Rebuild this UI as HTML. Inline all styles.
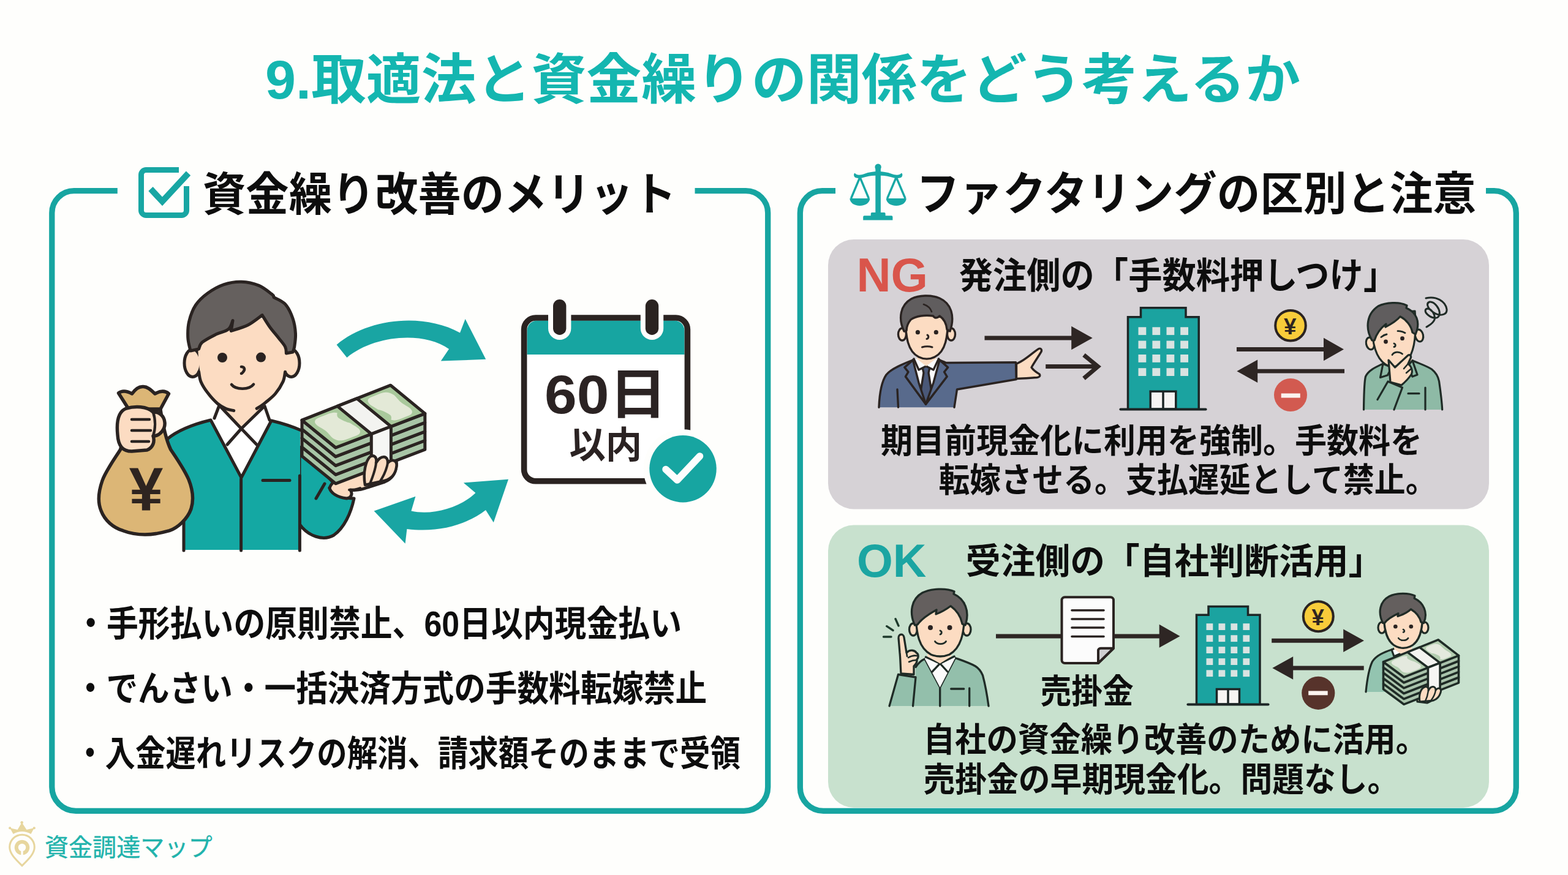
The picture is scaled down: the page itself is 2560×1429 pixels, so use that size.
<!DOCTYPE html>
<html lang="ja"><head><meta charset="utf-8"><title>9.取適法と資金繰りの関係をどう考えるか</title>
<style>
html,body{margin:0;padding:0;background:#fefefc;}
body{width:2560px;height:1429px;position:relative;overflow:hidden;font-family:"Liberation Sans","Noto Sans CJK JP",sans-serif;}
svg{position:absolute;left:0;top:0;display:block}
.t{position:absolute;white-space:nowrap;color:transparent;line-height:1;font-weight:bold;pointer-events:none;margin:0}
</style></head><body>
<svg width="2560" height="1429" viewBox="0 0 2560 1429">
<rect width="2560" height="1429" fill="#fefefc"/>
<g fill="none" stroke="#17a5a1" stroke-width="9.3" stroke-linecap="butt">
<path d="M191.8 311.7H120.8A36 36 0 0 0 84.8 347.7V1285.3A39 39 0 0 0 123.8 1324.3H1214.7A39 39 0 0 0 1253.7 1285.3V347.7A36 36 0 0 0 1217.7 311.7H1134.5"/>
<path d="M1364.0 311.7H1342.3A36 36 0 0 0 1306.3 347.7V1286.3A38 38 0 0 0 1344.3 1324.3H2437.3A38 38 0 0 0 2475.3 1286.3V347.7A36 36 0 0 0 2439.3 311.7H2426.0"/>
</g>
<rect x="1352" y="391" width="1079" height="440.5" rx="42" fill="#d6d2d6"/>
<rect x="1352" y="857.5" width="1079" height="461.5" rx="42" fill="#c8e1ce"/>

<g fill="none" stroke="#18a6a3"><path d="M292 277.5H238.5A8 8 0 0 0 230.5 285.5V343.5A8 8 0 0 0 238.5 351.5H296.5A8 8 0 0 0 304.5 343.5V304" stroke-width="9"/><path d="M246 308.5L265 329L307.5 283" stroke-width="10"/></g>
<g fill="#19a5a3">
<path d="M549.6 563C600 520 690 510 751 543.4L759.6 521L793.2 586.8L719.8 589.6L733 570C690 540 610 548 566.4 584Z"/>
<path d="M610.6 834.5L678.4 810.8L671.4 834.5C705 842 750 830 776.4 805L756.8 788.4L830 782.8L805.8 853.3L793 833C760 858 715 870 664.4 864L661.6 887.7Z"/>
</g>
<g>
<rect x="855.6" y="519" width="266.8" height="266.8" rx="19" fill="#ffffff"/>
<path d="M860.5 579V540A16.5 16.5 0 0 1 877 523.5H1101A16.5 16.5 0 0 1 1117.5 540V579Z" fill="#17a5a1"/>
<rect x="855.6" y="519" width="266.8" height="266.8" rx="19" fill="none" stroke="#2a2321" stroke-width="9.6"/>
<rect x="903.0" y="489" width="21.4" height="58" rx="10.7" fill="#fefefc" stroke="#fefefc" stroke-width="16"/>
<rect x="903.0" y="489" width="21.4" height="58" rx="10.7" fill="#2a2321"/>
<rect x="1053.8" y="489" width="21.4" height="58" rx="10.7" fill="#fefefc" stroke="#fefefc" stroke-width="16"/>
<rect x="1053.8" y="489" width="21.4" height="58" rx="10.7" fill="#2a2321"/>
<circle cx="1115" cy="765.7" r="64.5" fill="#fefefc"/>
<circle cx="1115" cy="765.7" r="54.7" fill="#17a5a1"/>
<path d="M1087 766.5L1105.7 784L1142.5 745" fill="none" stroke="#fdfdfd" stroke-width="11.5" stroke-linecap="round" stroke-linejoin="round"/>
</g>
<g stroke="#2a2321" stroke-width="5" stroke-linejoin="round" stroke-linecap="round">
<path d="M489 730L548 792L538 797C548 808 562 814 578 814C573 838 562 862 545 874C528 884 503 876 489 856Z" fill="#14a8a3"/>
<path d="M300 898V790L273 717C290 703 315 693 344 686L394 780L443 687C460 691 476 696 490 702V898Z" fill="#14a8a3" stroke="none"/>
<path d="M344 686L350 683L358 660H432L440 686L443 687L394 780Z" fill="#ffffff" stroke="none"/>
<path d="M358 640H432V663L394 700L358 662Z" fill="#fcdcc2" stroke="none"/>
<path d="M273 717C290 703 315 693 344 686L394 780L443 687C460 691 476 696 492 703M300 852V899M393.6 782V899M489.4 777V899M429 784.4H473M530 790L516 814" fill="none"/>
<path d="M350 683L358 662L394 700L432 663L440 686M394 700L371 726M394 700L419 726" fill="none"/>
<ellipse cx="314.5" cy="593" rx="13.5" ry="22.5" fill="#fcdcc2"/><ellipse cx="475.5" cy="593" rx="13.5" ry="22.5" fill="#fcdcc2"/>
<path d="M324 520C320 600 330 634 342 650C350 658 356 661 360 662C368 667 375 671 382 671L418 667C422 667 427 665 433 661C450 651 462 634 466 612C470 590 470 560 468 520Z" fill="#fcdcc2" stroke="none"/>
<path d="M324.6 607.4C325.2 610.1 325.6 617.8 328.0 623.4C330.4 629.0 334.4 635.4 338.9 641.3C343.4 647.2 350.1 654.7 355.0 659.0C359.9 663.3 363.6 665.0 368.0 667.0C372.4 669.0 379.4 670.1 381.7 670.7M465.6 607.4C465.0 610.1 464.7 617.5 462.0 623.4C459.3 629.3 454.2 637.4 449.5 643.0C444.8 648.6 437.4 654.0 433.5 657.3C429.6 660.6 428.4 661.4 426.0 663.0C423.6 664.6 420.3 666.5 419.2 667.2" fill="none"/>
<path d="M311.0 573.0C310.3 569.5 307.2 560.0 306.8 552.0C306.4 544.0 306.5 534.2 308.6 525.3C310.7 516.4 314.2 506.2 319.3 498.5C324.4 490.8 331.2 484.6 338.9 479.0C346.6 473.4 356.5 467.7 365.7 464.6C374.9 461.5 384.7 459.9 394.2 460.2C403.7 460.5 414.5 463.0 422.8 466.4C431.1 469.8 440.6 478.3 444.2 480.7L446.5 483L447 485.5C450.1 487.4 460.4 490.9 465.6 496.7C470.8 502.4 475.2 511.9 478.0 520.0C480.8 528.0 482.1 537.3 482.5 545.0C482.9 552.7 481.4 561.3 480.7 566.3C479.9 571.3 478.4 573.5 478.0 575.0L467.4 577C467.1 575.2 467.7 570.5 465.6 566.3C463.5 562.1 459.1 557.4 454.9 552.0C450.7 546.6 445.1 540.4 440.6 534.2C436.1 528.0 430.2 517.9 428.1 514.6C424.2 517.3 413.5 526.4 405.0 530.7C396.5 535.0 381.9 538.9 377.3 540.5L380 523.5C378.8 525.9 377.6 533.9 372.8 537.8C368.0 541.7 358.5 543.1 351.4 546.7C344.3 550.3 334.5 555.3 330.0 559.2C325.5 563.1 325.5 568.2 324.6 570.0Z" fill="#65605e"/>
<circle cx="363" cy="584" r="8" fill="#2a2321" stroke="none"/><circle cx="426" cy="583.6" r="8" fill="#2a2321" stroke="none"/>
<path d="M394 599C399 599 400 603 398 606C396 609 395 610 394 610M378 628C385 637 407 637 414 627.6" fill="none" stroke-width="4.6"/>
</g>
<g stroke="#2a2321" stroke-width="5" stroke-linejoin="round" stroke-linecap="round">
<path d="M538 797C542 784 560 776 592 768L594 752C598 742 608 742 612 750C616 738 630 738 633 748C640 742 649 748 647 760C646 774 640 782 628 787L600 796C590 800 580 801 572 800C576 806 574 813 566 814C550 812 540 805 538 797Z" fill="#fcdcc2"/>
<path d="M612 750C612 764 606 778 600 790M633 748C632 762 626 776 618 786M588 797C580 800 572 800 570 800" fill="none" stroke-width="4"/>
</g>
<g stroke="#2a2321" stroke-width="5" stroke-linejoin="round" stroke-linecap="round">
<polygon points="493.0,730.3 548.0,775.1 693.8,719.5 693.8,734.2 548.0,789.8 493.0,745.0" fill="#a8c5a6"/>
<polygon points="493.0,715.6 548.0,760.4 693.8,704.8 693.8,719.5 548.0,775.1 493.0,730.3" fill="#a8c5a6"/>
<polygon points="493.0,700.9 548.0,745.7 693.8,690.1 693.8,704.8 548.0,760.4 493.0,715.6" fill="#a8c5a6"/>
<polygon points="493.0,686.2 548.0,731.0 693.8,675.4 693.8,690.1 548.0,745.7 493.0,700.9" fill="#a8c5a6"/>
<polygon points="493.0,686.2 637.7,629.2 693.8,675.4 548.0,731.0" fill="#a9c99c"/>
<path d="M516.5 693.6C513.7 690.5 513.2 687.9 515.2 685.4C517.3 683.0 524.0 680.7 528.9 678.7C533.8 676.8 540.0 674.1 544.8 673.8C549.6 673.6 553.7 674.8 557.9 677.4C562.1 680.0 565.2 685.7 569.8 689.5C574.4 693.3 582.7 696.9 585.6 700.1C588.4 703.2 588.9 705.8 586.8 708.2C584.8 710.7 578.0 712.9 573.1 714.8C568.1 716.7 562.0 719.4 557.1 719.6C552.3 719.8 548.2 718.6 544.0 716.0C539.9 713.4 536.8 707.8 532.2 704.1C527.6 700.3 519.3 696.7 516.5 693.6Z" fill="#e3e9d7" stroke="none"/>
<path d="M603.2 659.7C600.3 656.6 599.7 654.0 601.6 651.6C603.4 649.1 609.7 647.0 614.3 645.2C619.0 643.4 624.7 640.8 629.4 640.7C634.0 640.5 638.0 641.8 642.2 644.5C646.4 647.1 649.7 652.9 654.4 656.7C659.0 660.6 667.3 664.4 670.2 667.5C673.2 670.7 673.8 673.3 671.9 675.7C670.1 678.1 663.7 680.1 659.1 681.9C654.4 683.7 648.6 686.3 644.0 686.4C639.3 686.5 635.3 685.2 631.1 682.6C627.0 679.9 623.7 674.2 619.0 670.4C614.4 666.6 606.2 662.8 603.2 659.7Z" fill="#e3e9d7" stroke="none"/>
<path d="M551.9 681.8C549.1 678.9 550.7 674.2 551.4 672.6C552.1 671.0 552.0 669.4 556.1 672.1C560.2 674.7 574.0 685.4 576.1 688.4C578.1 691.4 572.5 691.1 568.4 690.0C564.4 688.9 554.7 684.7 551.9 681.8Z" fill="#a9c99c" stroke="none"/>
<path d="M637.4 678.1C640.2 681.1 638.6 685.7 637.9 687.3C637.2 689.0 637.3 690.5 633.1 687.8C629.0 685.2 615.1 674.4 613.1 671.4C611.0 668.4 616.7 668.6 620.7 669.8C624.8 670.9 634.5 675.2 637.4 678.1Z" fill="#a9c99c" stroke="none"/>
<polygon points="550.9,663.4 582.7,650.9 638.4,696.5 606.3,708.8" fill="#f3f3f0"/>
<polygon points="606.3,708.8 638.4,696.5 638.4,755.3 606.3,767.6" fill="#f6f6f4"/>
</g>
<g stroke="#2a2321" stroke-width="4.5" stroke-linejoin="round" stroke-linecap="round">
<path d="M596 792C592 770 598 752 604 746C610 742 616 746 614 756C622 742 634 744 633 756C640 748 650 752 647 764C645 776 638 782 628 785Z" fill="#fcdcc2"/>
<path d="M614 756C613 768 608 780 604 790M633 756C631 768 626 778 620 787" fill="none" stroke-width="4"/>
</g>
<g stroke="#2a2321" stroke-width="5.5" stroke-linejoin="round" stroke-linecap="round">
<path d="M210 668L193.5 642C200 637 208 639 215.6 643C222 634 228 631 233.5 631.5C240 631 246 636 253 643C262 638 270 638 275.5 643L262 668Z" fill="#dcb676"/>
<path d="M209 669C204 700 200 720 196.7 734C188 748 172 770 167 785C160 805 160 822 165 834C171 850 185 862 201 866.7C215 872 228 873 236.6 873C250 873 265 870 276.5 866.7C290 862 306 848 312 831C317 815 314 798 308 783C300 765 288 748 278.6 734C272 720 266 695 262 669Z" fill="#dcb676"/>
<path d="M206 667C193 672 190 690 192 710C193 728 200 737 215 737L240 735C250 731 253 721 250 712C262 712 270 700 269 690C268 678 258 672 250 673C240 663 220 663 206 667Z" fill="#fcdcc2"/>
<path d="M215 685H244M215 703H246M215 721H243M250 673C254 685 254 700 250 712" fill="none" stroke-width="4.5"/>
</g><g stroke="#2a2321" stroke-width="3.4" stroke-linejoin="round" stroke-linecap="round">
<path d="M1435 665.2C1436 640 1440 622 1447 612C1455 602 1475 594 1490.5 588L1512 598L1534 588C1538 590 1542 591 1544.5 592.5L1658.5 591.7L1659.2 619.5L1562.5 636L1558 665.2Z" fill="#586a8c" stroke="none"/>
<path d="M1435 665.2C1436 640 1440 622 1447 612C1455 602 1475 594 1490.5 588M1534 588C1538 590 1542 591 1544.5 592.5L1658.5 591.7L1659.2 619.5L1562.5 636L1558 665.2M1465 636L1466.5 665" fill="none"/>
<path d="M1490.5 588L1492 586L1512 598L1532.5 586L1534 588L1546 615L1511.5 660L1478.5 615Z" fill="#fbfbfb" stroke="none"/>
<path d="M1506 600L1512 597L1518 600L1516 609L1521 640L1511.5 660L1503 640L1508 609Z" fill="#4a5878"/>
<path d="M1490.5 588L1477 600L1483 607.5L1478.5 615L1511.5 660L1546 615L1541.5 607.5L1547.5 600L1534 588" fill="none"/>
<path d="M1490.5 588L1477 600L1483 607.5L1478.5 615L1511.5 660L1500 625Z" fill="#586a8c"/><path d="M1534 588L1547.5 600L1541.5 607.5L1546 615L1511.5 660L1524 625Z" fill="#586a8c"/>
<path d="M1492 586L1500 604L1512 598L1524 604L1532.5 586" fill="#fbfbfb"/>
<path d="M1497 570H1528V586L1512 598L1497 586Z" fill="#fcdcc2" stroke="none"/>
<ellipse cx="1473" cy="546" rx="6.5" ry="10" fill="#fcdcc2"/><ellipse cx="1553" cy="546" rx="6.5" ry="10" fill="#fcdcc2"/>
<path d="M1479 500C1476 555 1484 575 1500 583C1508 587 1518 587 1526 583C1542 575 1550 555 1547 500Z" fill="#fcdcc2"/>
<path d="M1476 541C1466 520 1470 498 1488 488C1500 482 1520 481 1534 487C1552 495 1560 515 1551 541L1546 538C1545 528 1540 520 1534 516C1530 520 1526 520 1523.5 516C1510 514 1495 516 1487 522C1482 528 1480 535 1480 540Z" fill="#605d5e"/>
<path d="M1508 497C1514 499 1519 503 1521 509" fill="none" stroke-width="2.6"/>
<circle cx="1498.4" cy="542.7" r="3.6" fill="#2a2321" stroke="none"/><circle cx="1528.3" cy="542.7" r="3.6" fill="#2a2321" stroke="none"/>
<path d="M1514 547C1517 549 1516 553 1513 553.5M1505.5 567C1511 565.5 1517 565.5 1522 567" fill="none" stroke-width="3"/>
<path d="M1659.5 594C1672 590 1688 574 1696 569.5C1700 568 1702 572 1699 576C1694 584 1688 593 1684 600C1688 606 1694 609 1697 611C1699 614 1697 616 1693 616.5C1684 617 1672 618 1659.5 618.5Z" fill="#fcdcc2"/>
</g>
<path d="M1607.5 548.6H1749.2V532.8L1783.7 552.0L1749.2 571.2V555.4H1607.5Z" fill="#2e2624"/>
<path d="M1707.2 598.5H1790M1769.5 579.7L1792.5 598.5L1769.5 618" fill="none" stroke="#2e2624" stroke-width="7" stroke-linejoin="miter" stroke-linecap="butt"/>
<g stroke="#1d2626" stroke-width="3.5" stroke-linejoin="miter">
<path d="M1841.5 668.0V517.7H1862.5V502.7H1936.0V517.7H1957.2V668.0" fill="#1ba3a0"/>
<rect x="1878.2" y="639.2" width="41.6" height="28.8" fill="#f7f5f3"/>
<path d="M1899.0 639.2V668.0" fill="none"/>
<path d="M1829.5 668.5H1968.5" stroke-width="4.2" stroke-linecap="round" fill="none"/>
</g>
<rect x="1858.5" y="534.3" width="12.8" height="12.8" fill="#d9e3e1"/>
<rect x="1881.4" y="534.3" width="12.8" height="12.8" fill="#d9e3e1"/>
<rect x="1904.5" y="534.3" width="12.8" height="12.8" fill="#d9e3e1"/>
<rect x="1927.2" y="534.3" width="12.8" height="12.8" fill="#d9e3e1"/>
<rect x="1858.5" y="556.5" width="12.8" height="12.8" fill="#d9e3e1"/>
<rect x="1881.4" y="556.5" width="12.8" height="12.8" fill="#d9e3e1"/>
<rect x="1904.5" y="556.5" width="12.8" height="12.8" fill="#d9e3e1"/>
<rect x="1927.2" y="556.5" width="12.8" height="12.8" fill="#d9e3e1"/>
<rect x="1858.5" y="579.0" width="12.8" height="12.8" fill="#d9e3e1"/>
<rect x="1881.4" y="579.0" width="12.8" height="12.8" fill="#d9e3e1"/>
<rect x="1904.5" y="579.0" width="12.8" height="12.8" fill="#d9e3e1"/>
<rect x="1927.2" y="579.0" width="12.8" height="12.8" fill="#d9e3e1"/>
<rect x="1858.5" y="601.2" width="12.8" height="12.8" fill="#d9e3e1"/>
<rect x="1881.4" y="601.2" width="12.8" height="12.8" fill="#d9e3e1"/>
<rect x="1904.5" y="601.2" width="12.8" height="12.8" fill="#d9e3e1"/>
<rect x="1927.2" y="601.2" width="12.8" height="12.8" fill="#d9e3e1"/>
<circle cx="2107.0" cy="531.7" r="24.8" fill="#f8cc3a" stroke="#2a2321" stroke-width="4"/>
<path d="M2019.0 567.1H2161.0V551.8L2194.0 570.5L2161.0 589.2V573.9H2019.0Z" fill="#2e2624"/>
<path d="M2195.0 602.8H2053.2V587.5L2019.4 606.2L2053.2 624.9V609.6H2195.0Z" fill="#2e2624"/>
<circle cx="2107.0" cy="645.0" r="27.0" fill="#d25a50"/><rect x="2091.7" y="642.5" width="31.1" height="7.1" fill="#fbf3ef"/>
<g stroke="#1f2b26" stroke-width="3.2" stroke-linejoin="round" stroke-linecap="round">
<path d="M2226.5 669C2227 640 2227 625 2229.5 615C2234 605 2245 600 2258 594L2280 606L2306 588.7C2318 594 2330 598 2337.5 603C2345 609 2348 615 2349.5 622.5C2352 640 2354 655 2354.7 669Z" fill="#8ebaa6" stroke="none"/>
<path d="M2226.5 669C2227 640 2227 625 2229.5 615C2234 605 2245 600 2258 594M2306 588.7C2318 594 2330 598 2337.5 603C2345 609 2348 615 2349.5 622.5C2352 640 2354 655 2354.7 669M2299 642.7H2317M2327 633V669" fill="none"/>
<path d="M2262 585L2300 575L2306 589L2280 608L2258 594Z" fill="#fcdcc2" stroke="none"/>
<path d="M2258 594L2253.5 616.5L2265.5 612.7L2272 600Z" fill="#8ebaa6"/><path d="M2306 588.7L2314 612L2306 615L2298 598Z" fill="#8ebaa6"/>
<path d="M2266 623L2289.5 633L2276 669H2249L2249 652.5Z" fill="#8ebaa6" stroke="none"/>
<path d="M2249 652.5L2266 623L2289.5 633L2276 669" fill="none"/>
<ellipse cx="2237" cy="561" rx="6.5" ry="10" transform="rotate(-12 2237 561)" fill="#fcdcc2"/><ellipse cx="2317" cy="548" rx="6.5" ry="10" transform="rotate(-12 2317 548)" fill="#fcdcc2"/>
<path d="M2240 512C2238 560 2246 585 2262 595C2270 600 2282 600 2292 594C2306 584 2314 560 2310 508Z" fill="#fcdcc2"/>
<path d="M2240 556C2228 535 2232 512 2250 500C2262 494 2285 492 2297 499L2296 503C2312 510 2320 525 2311 546L2306 543C2304 532 2296 522 2286 517C2280 524 2270 530 2262 534L2263 529C2254 536 2247 546 2244 556Z" fill="#605d5e"/>
<circle cx="2262.5" cy="558" r="3.4" fill="#2a2321" stroke="none"/><circle cx="2289.5" cy="552.7" r="3.4" fill="#2a2321" stroke="none"/>
<path d="M2255 550.5C2258 548 2261 546.5 2264 546M2282 540.7C2286 540.5 2290 541.5 2294 543.7M2276 561C2279 562 2279 566 2276 566.5M2273 579.5C2276 574.5 2284 573.5 2289.5 578" fill="none" stroke-width="2.8"/>
<path d="M2267 588L2277.5 600L2298 581C2301 578 2305 581 2303 585L2299 594C2306 600 2306 607 2304.5 611C2300 618 2294 624 2288 629L2270 624Z" fill="#fcdcc2"/>
<path d="M2299 594L2292 602M2303 603L2296 609" fill="none" stroke-width="2.6"/>
<path d="M2328 487C2345 483 2360 492 2362 505C2363 515 2350 517 2340 510C2330 503 2328 495 2334 493C2342 492 2352 505 2350 514C2348 522 2338 520 2331 514C2326 510 2326 505 2330 504C2338 504 2344 515 2342 522C2340 528 2334 531 2329 534" fill="none" stroke-width="3"/>
</g><g stroke="#1f2b26" stroke-width="3.3" stroke-linejoin="round" stroke-linecap="round">
<path d="M1490.5 1153L1495 1106L1495 1089.5C1500 1082 1505 1078 1510 1076L1534.7 1122.5L1559.5 1074.5C1572 1079 1584 1083 1592.5 1088C1599 1092 1602 1097 1604.5 1103C1609 1120 1612 1138 1614 1153Z" fill="#93bfab" stroke="none"/>
<path d="M1495 1089.5C1500 1082 1505 1078 1510 1076L1534.7 1122.5L1559.5 1074.5C1572 1079 1584 1083 1592.5 1088C1599 1092 1602 1097 1604.5 1103C1609 1120 1612 1138 1614 1153M1534.7 1122.5V1153M1552.7 1125H1573.7M1582.7 1124V1153" fill="none"/>
<path d="M1510 1076L1511.5 1073L1534.7 1083.5L1558 1072L1559.5 1074.5L1534.7 1122.5Z" fill="#fbfbfb" stroke="none"/>
<path d="M1511.5 1073L1534.7 1083.5L1558 1072M1534.7 1083.5L1522 1097M1534.7 1083.5L1547 1097" fill="none"/>
<path d="M1516 1055H1553V1072L1534.7 1083.5L1514 1072Z" fill="#fcdcc2" stroke="none"/>
<path d="M1466.5 1101.5L1495 1106L1490.5 1153H1452Z" fill="#93bfab" stroke="none"/>
<path d="M1452 1153L1466.5 1101.5L1495 1106L1490.5 1153" fill="none"/>
<path d="M1471 1100C1470 1085 1470 1075 1469 1066L1467 1042C1466.5 1035 1475 1034 1476 1041L1480 1066C1486 1060 1494 1062 1496 1066C1500 1068 1500 1074 1497 1077C1498 1082 1494 1086 1492 1088L1492 1101.5Z" fill="#fcdcc2"/>
<path d="M1480 1066L1481 1072M1483 1074C1488 1071 1493 1070 1497 1071M1484 1081C1488 1079 1492 1078 1496 1078" fill="none" stroke-width="2.6"/>
<path d="M1462 1010.7L1467 1022M1447.7 1022.7L1458 1029.5M1442.5 1040H1455" fill="none" stroke-width="3.4" stroke="#1e3a2c"/>
<ellipse cx="1491" cy="1028" rx="6.5" ry="10" fill="#fcdcc2"/><ellipse cx="1578.5" cy="1028" rx="6.5" ry="10" fill="#fcdcc2"/>
<path d="M1496 985C1493 1040 1503 1060 1520 1069C1530 1073 1540 1073 1550 1069C1566 1060 1577 1040 1574 985Z" fill="#fcdcc2"/>
<path d="M1493.5 1021C1484 1000 1488 978 1506 968C1520 961 1545 960 1558 966L1557 970C1575 978 1584 998 1576 1021L1571 1019C1569 1008 1562 997 1552 989.7C1545 995 1536 1000 1528 1003L1529 996C1518 1002 1505 1010 1498 1020Z" fill="#645f5e"/>
<circle cx="1519" cy="1025" r="4" fill="#2a2321" stroke="none"/><circle cx="1550.5" cy="1025" r="4" fill="#2a2321" stroke="none"/>
<path d="M1535 1030C1538 1031 1538 1035 1535 1036M1526.5 1047.5C1530 1053 1541 1053 1544.5 1047.5" fill="none" stroke-width="2.8"/>
</g>
<rect x="1626" y="1035.5" width="268" height="7" fill="#2e2624"/>
<path d="M1892.7 1019.7L1926.5 1039L1892.7 1057.7Z" fill="#2e2624"/>
<g stroke="#2a2321" stroke-width="4" stroke-linejoin="round" stroke-linecap="round">
<path d="M1738.5 975.2H1813A5 5 0 0 1 1818 980.2V1058.7L1793 1083H1738.5A5 5 0 0 1 1733.5 1078V980.2A5 5 0 0 1 1738.5 975.2Z" fill="#fcfcfc"/>
<path d="M1793 1083V1063A4 4 0 0 1 1797 1058.7H1818Z" fill="#cfcfd1"/>
<path d="M1750 996.8H1802M1750 1011H1802M1750 1025H1802M1750 1039.5H1802" fill="none" stroke-width="3.6"/>
</g>
<g stroke="#1d2626" stroke-width="3.5" stroke-linejoin="miter">
<path d="M1953.5 1150.0V1004.2H1973.0V990.5H2037.5V1004.2H2057.0V1150.0" fill="#1ba3a0"/>
<rect x="1986.5" y="1125.5" width="37.0" height="24.5" fill="#f7f5f3"/>
<path d="M2005.0 1125.5V1150.0" fill="none"/>
<path d="M1939.5 1150.5H2070.5" stroke-width="4.2" stroke-linecap="round" fill="none"/>
</g>
<rect x="1969.5" y="1018.2" width="10.8" height="10.8" fill="#d9e3e1"/>
<rect x="1989.5" y="1018.2" width="10.8" height="10.8" fill="#d9e3e1"/>
<rect x="2009.4" y="1018.2" width="10.8" height="10.8" fill="#d9e3e1"/>
<rect x="2029.4" y="1018.2" width="10.8" height="10.8" fill="#d9e3e1"/>
<rect x="1969.5" y="1037.3" width="10.8" height="10.8" fill="#d9e3e1"/>
<rect x="1989.5" y="1037.3" width="10.8" height="10.8" fill="#d9e3e1"/>
<rect x="2009.4" y="1037.3" width="10.8" height="10.8" fill="#d9e3e1"/>
<rect x="2029.4" y="1037.3" width="10.8" height="10.8" fill="#d9e3e1"/>
<rect x="1969.5" y="1056.2" width="10.8" height="10.8" fill="#d9e3e1"/>
<rect x="1989.5" y="1056.2" width="10.8" height="10.8" fill="#d9e3e1"/>
<rect x="2009.4" y="1056.2" width="10.8" height="10.8" fill="#d9e3e1"/>
<rect x="2029.4" y="1056.2" width="10.8" height="10.8" fill="#d9e3e1"/>
<rect x="1969.5" y="1075.2" width="10.8" height="10.8" fill="#d9e3e1"/>
<rect x="1989.5" y="1075.2" width="10.8" height="10.8" fill="#d9e3e1"/>
<rect x="2009.4" y="1075.2" width="10.8" height="10.8" fill="#d9e3e1"/>
<rect x="2029.4" y="1075.2" width="10.8" height="10.8" fill="#d9e3e1"/>
<rect x="1969.5" y="1094.3" width="10.8" height="10.8" fill="#d9e3e1"/>
<rect x="1989.5" y="1094.3" width="10.8" height="10.8" fill="#d9e3e1"/>
<rect x="2009.4" y="1094.3" width="10.8" height="10.8" fill="#d9e3e1"/>
<rect x="2029.4" y="1094.3" width="10.8" height="10.8" fill="#d9e3e1"/>
<circle cx="2152.3" cy="1006.7" r="24.5" fill="#f8cc3a" stroke="#2a2321" stroke-width="4"/>
<path d="M2076.2 1042.7H2193.2V1027.4L2227.0 1046.2L2193.2 1065.0V1049.7H2076.2Z" fill="#2e2624"/>
<path d="M2226.7 1087.5H2111.2V1072.2L2077.3 1091.0L2111.2 1109.8V1094.5H2226.7Z" fill="#2e2624"/>
<circle cx="2152.3" cy="1131.8" r="27.1" fill="#57332b"/><rect x="2136.2" y="1128.4" width="31.5" height="6.9" fill="#fbf3ef"/>
<g stroke="#1f2b26" stroke-width="3.2" stroke-linejoin="round" stroke-linecap="round">
<path d="M2230 1130C2232 1110 2235 1092 2240.5 1080.5C2247 1070 2260 1065 2272 1061L2300 1075L2300 1130Z" fill="#93c4b0" stroke="none"/>
<path d="M2230 1130C2232 1110 2235 1092 2240.5 1080.5C2247 1070 2260 1065 2272 1061" fill="none"/>
<path d="M2272 1061L2276 1072L2290 1066L2285 1056Z" fill="#fbfbfb"/>
<path d="M2277 1045H2305V1062L2290 1070L2276 1060Z" fill="#fcdcc2" stroke="none"/>
<ellipse cx="2256" cy="1025" rx="6" ry="9" fill="#fcdcc2"/><ellipse cx="2326" cy="1025" rx="6" ry="9" fill="#fcdcc2"/>
<path d="M2260 990C2257 1030 2266 1050 2280 1056C2287 1059 2295 1059 2302 1056C2316 1050 2325 1030 2322 990Z" fill="#fcdcc2"/>
<path d="M2257.7 1017.5C2249 1000 2253 982 2268 974C2280 968 2300 968 2310 973L2309 977C2324 984 2332 1000 2324.5 1017.5L2320 1016C2318 1008 2312 1000 2303.5 995C2298 1000 2290 1004 2282 1006.5L2283 1001.7C2274 1006 2265 1011 2261 1017Z" fill="#645f5e"/>
<circle cx="2278.3" cy="1023.2" r="3.3" fill="#2a2321" stroke="none"/><circle cx="2303.8" cy="1023.2" r="3.3" fill="#2a2321" stroke="none"/>
<path d="M2291 1028C2293.5 1029 2293.5 1032 2291 1032.5M2283.2 1042.2C2286 1047 2296 1047 2299 1042.2" fill="none" stroke-width="2.6"/>
<path d="M2314 1146C2312 1136 2320 1124 2330 1120L2350 1116C2354 1124 2352 1134 2346 1140L2330 1148Z" fill="#fcdcc2"/>
</g>
<g stroke="#1f2b26" stroke-width="3.6" stroke-linejoin="round" stroke-linecap="round">
<polygon points="2258.5,1116.6 2292.0,1141.4 2381.5,1106.2 2381.5,1115.1 2292.0,1150.3 2258.5,1125.5" fill="#a9c3ab"/>
<polygon points="2258.5,1107.7 2292.0,1132.5 2381.5,1097.3 2381.5,1106.2 2292.0,1141.4 2258.5,1116.6" fill="#a9c3ab"/>
<polygon points="2258.5,1098.8 2292.0,1123.6 2381.5,1088.4 2381.5,1097.3 2292.0,1132.5 2258.5,1107.7" fill="#a9c3ab"/>
<polygon points="2258.5,1089.9 2292.0,1114.7 2381.5,1079.5 2381.5,1088.4 2292.0,1123.6 2258.5,1098.8" fill="#a9c3ab"/>
<polygon points="2258.5,1081.0 2292.0,1105.8 2381.5,1070.6 2381.5,1079.5 2292.0,1114.7 2258.5,1089.9" fill="#a9c3ab"/>
<polygon points="2258.5,1081.0 2348.0,1044.8 2381.5,1070.6 2292.0,1105.8" fill="#b3cdb0"/>
<path d="M2273.2 1084.7C2271.5 1082.9 2271.4 1081.4 2272.9 1079.8C2274.4 1078.2 2279.0 1076.5 2282.4 1075.2C2285.8 1073.8 2290.1 1071.9 2293.3 1071.6C2296.5 1071.2 2299.2 1071.8 2301.7 1073.2C2304.3 1074.6 2306.0 1077.9 2308.8 1080.0C2311.6 1082.1 2316.8 1084.0 2318.5 1085.8C2320.2 1087.6 2320.3 1089.1 2318.8 1090.7C2317.2 1092.2 2312.6 1093.9 2309.2 1095.2C2305.8 1096.5 2301.6 1098.4 2298.4 1098.7C2295.1 1099.0 2292.5 1098.5 2289.9 1097.1C2287.4 1095.7 2285.7 1092.4 2282.9 1090.3C2280.1 1088.3 2274.8 1086.4 2273.2 1084.7Z" fill="#e4e9de" stroke="none"/>
<path d="M2329.7 1061.9C2328.0 1060.2 2327.5 1058.8 2328.4 1057.4C2329.3 1056.1 2332.7 1054.9 2335.2 1053.9C2337.7 1052.9 2340.8 1051.4 2343.4 1051.4C2346.0 1051.3 2348.3 1052.0 2350.8 1053.5C2353.2 1055.0 2355.4 1058.2 2358.2 1060.3C2361.0 1062.5 2365.8 1064.6 2367.5 1066.4C2369.3 1068.1 2369.8 1069.6 2368.9 1070.9C2368.0 1072.2 2364.5 1073.4 2362.0 1074.4C2359.5 1075.4 2356.4 1076.8 2353.9 1076.8C2351.3 1076.9 2348.9 1076.2 2346.5 1074.7C2344.0 1073.2 2341.9 1070.0 2339.1 1067.9C2336.3 1065.8 2331.5 1063.7 2329.7 1061.9Z" fill="#e4e9de" stroke="none"/>
<path d="M2298.3 1075.7C2296.6 1074.1 2297.6 1071.4 2298.1 1070.4C2298.5 1069.5 2298.5 1068.6 2301.0 1070.0C2303.5 1071.5 2311.8 1077.4 2313.1 1079.1C2314.3 1080.8 2310.8 1080.8 2308.4 1080.2C2305.9 1079.6 2300.0 1077.4 2298.3 1075.7Z" fill="#b3cdb0" stroke="none"/>
<path d="M2350.6 1071.9C2352.4 1073.5 2351.3 1076.3 2350.9 1077.2C2350.4 1078.2 2350.4 1079.1 2347.9 1077.6C2345.5 1076.1 2337.1 1070.1 2335.9 1068.4C2334.7 1066.7 2338.1 1066.8 2340.6 1067.3C2343.0 1067.9 2348.9 1070.2 2350.6 1071.9Z" fill="#b3cdb0" stroke="none"/>
<polygon points="2297.9,1065.1 2317.6,1057.1 2351.1,1082.6 2331.4,1090.3" fill="#f3f3f0"/>
<polygon points="2331.4,1090.3 2351.1,1082.6 2351.1,1127.1 2331.4,1134.8" fill="#f6f6f4"/>
</g>
<g stroke="#1f2b26" stroke-width="3" stroke-linejoin="round" stroke-linecap="round">
<path d="M2318 1146C2316 1134 2320 1124 2326 1122C2330 1120 2333 1124 2332 1128C2336 1119 2344 1120 2344 1127C2349 1121 2354 1125 2352 1131C2350 1138 2346 1142 2340 1144Z" fill="#fcdcc2"/>
<path d="M2332 1128C2331 1135 2329 1141 2327 1145M2344 1127C2343 1133 2340 1139 2337 1143" fill="none" stroke-width="2.4"/>
</g><g fill="#18a8a5" stroke="none">
<circle cx="1433.6" cy="272.8" r="5.2"/><rect x="1429.3" y="273" width="8.6" height="76"/>
<path d="M1395.5 282.5C1399 287 1405 286 1411 284C1419 281 1426 280 1433.6 280C1441 280 1448 281 1456 284C1462 286 1468 287 1471.9 282.5C1474 284 1474 288 1471 290C1466 292 1460 291 1454 289C1447 287 1440 286.4 1433.6 286.4C1427 286.4 1420 287 1413 289C1407 291 1401 292 1396.5 290C1393.5 288 1393.5 284 1395.5 282.5Z"/>
<path d="M1387.4 324H1420.2C1420.2 331 1413 336 1403.8 336C1394.6 336 1387.4 331 1387.4 324Z"/><path d="M1446.8 324H1479.7C1479.7 331 1472.5 336 1463.2 336C1454 336 1446.8 331 1446.8 324Z"/>
<path d="M1423.7 347H1443.6A2 2 0 0 1 1445.6 349V352.2H1455.4A2 2 0 0 1 1457.4 354.2V359.6H1409.2V354.2A2 2 0 0 1 1411.2 352.2H1421.7V349A2 2 0 0 1 1423.7 347Z"/>
</g>
<path d="M1389.5 324L1404 289.5L1418.4 324M1448.6 324L1463.3 289.5L1478 324" fill="none" stroke="#18a8a5" stroke-width="3.4" stroke-linejoin="round"/>
<g fill="#e7d69e">
<circle cx="35.7" cy="1343.3" r="2.3"/><circle cx="16.2" cy="1352.3" r="2.1"/><circle cx="55.8" cy="1352.3" r="2.1"/>
<path d="M16.2 1352.3L28.6 1355L35.7 1343.3L43.4 1355L55.8 1352.3L50.5 1362C41 1356.5 31 1356.5 21.6 1362Z"/>
</g>
<path d="M36 1363.2A20.3 20.3 0 0 1 56.3 1383.5C56.3 1394 47 1403 36 1413.8C25 1403 15.7 1394 15.7 1383.5A20.3 20.3 0 0 1 36 1363.2Z" fill="none" stroke="#e7d69e" stroke-width="3"/>
<path d="M34.3 1396.2V1390A6.3 6.3 0 1 1 37.7 1390V1396.2A12.3 12.3 0 1 0 34.3 1396.2Z" fill="#e7d69e"/>
<g id="txt" font-family="'Liberation Sans','Noto Sans CJK JP',sans-serif" font-weight="bold">
<text x="433" y="161.4" font-size="89.14" fill="#14b6b0" textLength="1690" lengthAdjust="spacingAndGlyphs">9.取適法と資金繰りの関係をどう考えるか</text>
<text x="331.1" y="343.6" font-size="74.9" fill="#0d0d0d" textLength="773" lengthAdjust="spacingAndGlyphs">資金繰り改善のメリット</text>
<text x="1495.9" y="343.2" font-size="75" fill="#0d0d0d" textLength="914.2" lengthAdjust="spacingAndGlyphs">ファクタリングの区別と注意</text>
<text x="1398.5" y="475.6" font-size="77.7" fill="#d9554b">NG</text>
<text x="1565.7" y="471.4" font-size="59.4" fill="#0d0d0d" textLength="715.5" lengthAdjust="spacingAndGlyphs">発注側の「手数料押しつけ」</text>
<text x="1437.9" y="739.1" font-size="54.3" fill="#0d0d0d" textLength="884.2" lengthAdjust="spacingAndGlyphs">期目前現金化に利用を強制。手数料を</text>
<text x="1532.4" y="803.1" font-size="54.3" fill="#0d0d0d" textLength="813.3" lengthAdjust="spacingAndGlyphs">転嫁させる。支払遅延として禁止。</text>
<text x="1398.9" y="942" font-size="75.6" fill="#1ba5a2">OK</text>
<text x="1576.8" y="937.4" font-size="57.75" fill="#0d0d0d" textLength="681.6" lengthAdjust="spacingAndGlyphs">受注側の「自社判断活用」</text>
<text x="1698.5" y="1148" font-size="54.3" fill="#0d0d0d" textLength="152.4" lengthAdjust="spacingAndGlyphs">売掛金</text>
<text x="1507.6" y="1227.1" font-size="54.3" fill="#0d0d0d" textLength="822.6" lengthAdjust="spacingAndGlyphs">自社の資金繰り改善のために活用。</text>
<text x="1507.4" y="1291.9" font-size="54.8" fill="#0d0d0d" textLength="777" lengthAdjust="spacingAndGlyphs">売掛金の早期現金化。問題なし。</text>
<text x="122.2" y="1038.8" font-size="58" fill="#0d0d0d" textLength="990.8" lengthAdjust="spacingAndGlyphs">・手形払いの原則禁止、60日以内現金払い</text>
<text x="121.8" y="1144.8" font-size="58" fill="#0d0d0d" textLength="1032.4" lengthAdjust="spacingAndGlyphs">・でんさい・一括決済方式の手数料転嫁禁止</text>
<text x="122.2" y="1250.8" font-size="58" fill="#0d0d0d" textLength="1086.6" lengthAdjust="spacingAndGlyphs">・入金遅れリスクの解消、請求額そのままで受領</text>
<text x="889" y="675.1" font-size="88.1" fill="#2b2323" textLength="200.1" lengthAdjust="spacingAndGlyphs">60日</text>
<text x="929.5" y="748.4" font-size="60.5" fill="#2b2323" textLength="118.6" lengthAdjust="spacingAndGlyphs">以内</text>
<text x="72.9" y="1397.7" font-size="40.3" font-weight="normal" fill="#22b3ac" stroke="#22b3ac" stroke-width="0.35" textLength="273.7" lengthAdjust="spacingAndGlyphs">資金調達マップ</text>
<text x="210.7" y="834" font-size="100" fill="#2e2420">¥</text>
<text x="2096.1" y="545.7" font-size="36.9" fill="#2e2420">¥</text>
<text x="2141.6" y="1020.5" font-size="36.5" fill="#2e2420">¥</text>
</g>
</svg>
</body></html>
